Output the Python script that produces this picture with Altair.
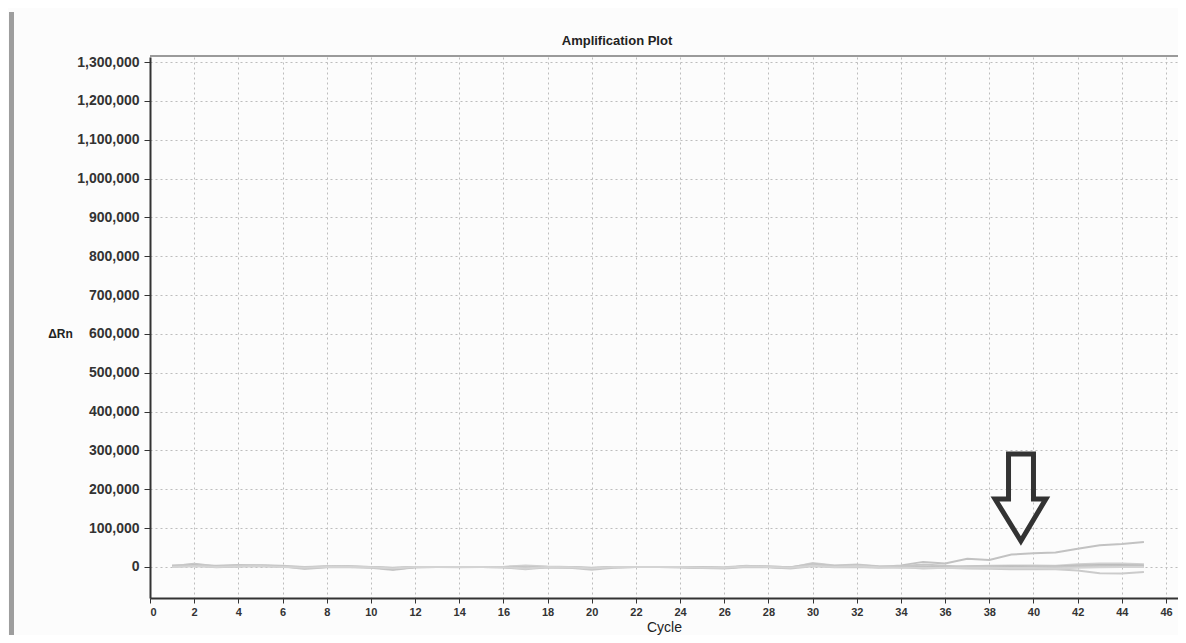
import altair as alt
import pandas as pd

cycles = list(range(1, 46))

series_a = [2000, 8000, 2000, 4000, 3000, 1000, -2000, 1000, 1000, -1000, -3000, 0, 0, 0, 0, 0,
            2000, 0, -1000, -2000, 0, 0, 0, 0, -1000, -2000, 2000, 1000, -1000, 5000, 2000, 3000,
            0, 4000, 13000, 9000, 21000, 18000, 32000, 35000, 37000, 47000, 56000, 59000, 64000]
series_b = [0, 3000, -1000, 1000, 4000, 2000, -5000, -1000, 0, -2000, -8000, -1000, 0, 0, 0, -1000,
            -6000, -1000, -2000, -7000, -2000, 0, 0, -1000, -3000, -4000, 0, -1000, -4000, 2000, -1000, 0,
            -2000, 0, -4000, -2000, -4000, -5000, -6000, -6000, -6000, -9000, -16000, -17000, -13000]
series_c = [4000, 6000, 1000, 3000, 5000, 3000, 0, 2000, 1000, 0, -4000, 0, 0, -1000, 0, 0,
            4000, 1000, 0, -4000, -1000, 0, 0, 0, -2000, -1000, 3000, 0, -2000, 10000, 4000, 6000,
            2000, 1000, 2000, 0, 2000, 3000, 4000, 4000, 3000, 7000, 9000, 9000, 7000]
series_d = [1000, 5000, 0, 2000, 2000, 1000, -3000, 0, 0, -1000, -6000, -1000, 0, 0, 0, -1000,
            -3000, 0, -1000, -5000, -1000, 0, 0, -1000, -2000, -3000, 1000, 0, -3000, 6000, 1000, 4000,
            0, -1000, 0, -1000, 1000, 1000, 2000, 1000, 1000, 4000, 5000, 5000, 4000]
series_e = [3000, 4000, 3000, 5000, 3000, 2000, -1000, 1000, 2000, 0, -2000, 0, 0, 0, 0, 0,
            -2000, -1000, 0, -3000, 0, 0, 0, 0, 0, -2000, 2000, 1000, -1000, 8000, 3000, 5000,
            1000, 2000, 6000, 3000, 0, -1000, -2000, -1000, 0, 1000, 2000, 1000, 1000]
series_f = [0, 2000, 0, 1000, 2000, 0, -2000, 0, 0, -1000, -4000, 0, 0, 0, 0, -1000,
            -4000, 0, -1000, -4000, 0, 0, 0, 0, -2000, -2000, 1000, 0, -2000, 3000, 0, 2000,
            -1000, -2000, -2000, -3000, -2000, -2000, -3000, -3000, -4000, -2000, -1000, 0, 0]

series_names = ["A1", "A2", "A3", "A4", "A5", "A6"]
series_values = [series_a, series_b, series_c, series_d, series_e, series_f]
line_colors = ["#c2c2c2", "#cbcbcb", "#d0d0d0", "#bcbcbc", "#c6c6c6", "#d4d4d4"]

x_ticks = list(range(0, 47, 2))
y_ticks = list(range(0, 1300001, 100000))

chart_title = ["Amplification Plot"]

# annotation arrow outline (cycle, ΔRn)
arrow_x = [38.87, 40.00, 40.00, 40.56, 39.43, 38.26, 38.87, 38.87, 40.00]
arrow_y = [290900, 290900, 175000, 175000, 66900, 175000, 175000, 290900, 290900]

rows = []
for name, vals in zip(series_names, series_values):
    for c, v in zip(cycles, vals):
        rows.append({"cycle": c, "drn": v, "well": name})
df = pd.DataFrame(rows)
arrow_df = pd.DataFrame({"cycle": arrow_x, "drn": arrow_y, "order": list(range(len(arrow_x)))})

W = 1028
H = 541

x_scale = alt.Scale(domain=[0, W / 22.087], nice=False, zero=False)
y_scale = alt.Scale(domain=[-80000, 1313000], nice=False, zero=False)

x_enc = alt.X(
    "cycle:Q", scale=x_scale,
    axis=alt.Axis(
        values=x_ticks, title="Cycle", grid=True, gridDash=[2, 3], gridColor="#bdbdbd",
        domainColor="#333333", domainWidth=2, tickColor="#333333", tickSize=5,
        labelFont="Liberation Sans", labelFontWeight="bold", labelFontSize=11, labelColor="#333333",
        labelPadding=3, titleFont="Liberation Sans", titleFontSize=14, titleFontWeight="normal",
        titleColor="#222222", titlePadding=3,
    ),
)
y_enc = alt.Y(
    "drn:Q", scale=y_scale,
    axis=alt.Axis(
        values=y_ticks, format=",d", title="ΔRn", grid=True, gridDash=[2, 3], gridColor="#bdbdbd",
        domainColor="#333333", domainWidth=2, tickColor="#333333", tickSize=6,
        labelFont="Liberation Sans", labelFontWeight="bold", labelFontSize=14, labelColor="#333333",
        labelPadding=5, titleFont="Liberation Sans", titleFontSize=12, titleFontWeight="bold",
        titleColor="#222222", titleX=-90, titleY=276, titleAngle=0, titleAlign="center",
        titleBaseline="middle",
    ),
)

lines = alt.Chart(df).mark_line(strokeWidth=2).encode(
    x=x_enc, y=y_enc,
    color=alt.Color("well:N", scale=alt.Scale(domain=series_names, range=line_colors), legend=None),
)

arrow = alt.Chart(arrow_df).mark_line(color="#333333", strokeWidth=5, strokeJoin="miter").encode(
    x=alt.X("cycle:Q", scale=x_scale), y=alt.Y("drn:Q", scale=y_scale), order="order:Q",
)

top_border = alt.Chart(pd.DataFrame({"k": [0]})).mark_rule(color="#9a9a9a", strokeWidth=2).encode(
    x=alt.value(0), x2=alt.value(W), y=alt.value(-1),
)

side_bar = alt.Chart(pd.DataFrame({"k": [0]})).mark_rule(color="#9e9e9e", strokeWidth=5).encode(
    x=alt.value(-138.5), y=alt.value(-45), y2=alt.value(600),
)

title_text = alt.Chart(pd.DataFrame({"t": chart_title})).mark_text(
    font="Liberation Sans", fontSize=13, fontWeight="bold", color="#222222",
    align="center", baseline="middle",
).encode(x=alt.value(467), y=alt.value(-16), text="t:N")

chart = alt.layer(lines, arrow, top_border, side_bar, title_text).properties(
    width=W, height=H,
    autosize=alt.AutoSizeParams(type="none"),
    padding={"left": 142, "top": 49, "right": 0, "bottom": 37},
    background="#fcfcfc",
).configure_view(strokeWidth=0)

chart.save("out.html", embed_options={"renderer": "svg", "actions": False})
